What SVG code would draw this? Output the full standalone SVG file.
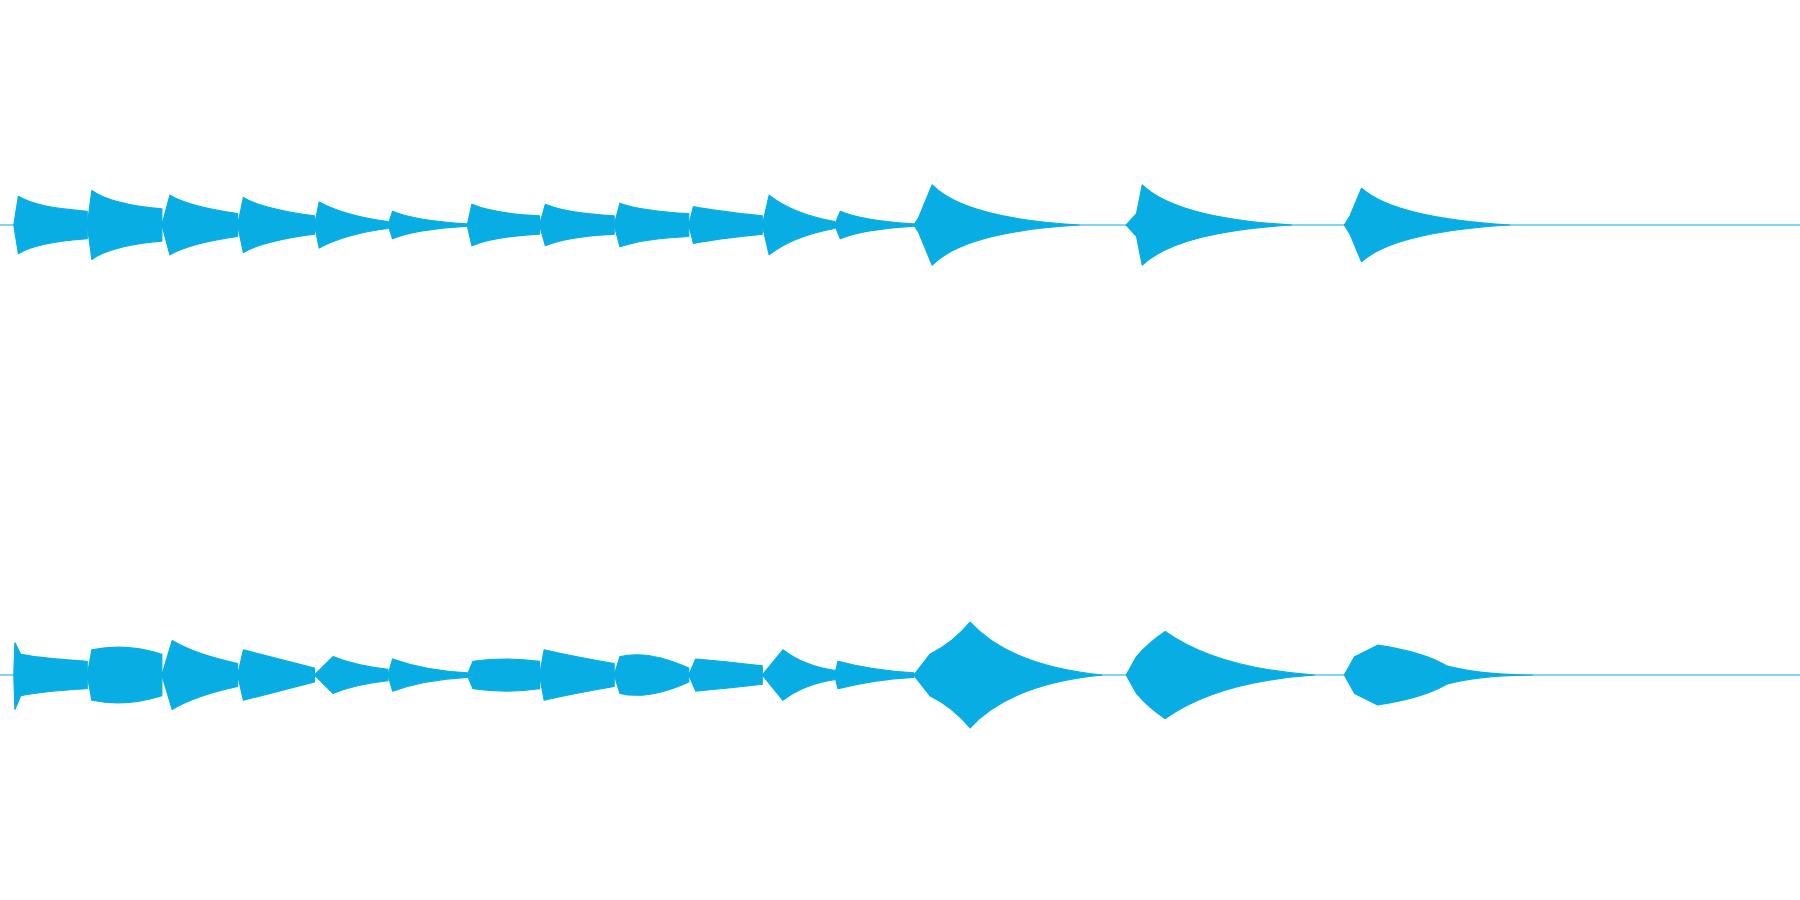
<svg xmlns="http://www.w3.org/2000/svg" width="1800" height="900" viewBox="0 0 1800 900">
<style>.w{fill:#08ade4;stroke:#08ade4;stroke-width:1;stroke-linejoin:round}.b{stroke:#08ade4;stroke-width:1}</style>
<rect width="1800" height="900" fill="#fff"/>
<g transform="scale(1.148)">
<g id="top">
<line class="b" x1="0" y1="196" x2="1568" y2="196"/>
<path class="w" d="M12 196 L16 171 Q32 181 76 184 L76 208 Q32 211 16 221Z"/>
<path class="w" d="M76 196 L80 166 Q96 178 141 182 L141 210 Q96 214 80 226Z"/>
<path class="w" d="M141 196 L148 170 Q165 180 207 186 L207 206 Q165 212 148 222Z"/>
<path class="w" d="M207 196 L212 172 Q228 182 274 188 L274 204 Q228 210 212 220Z"/>
<path class="w" d="M274 196 L278 176 Q300 188 338 193 L338 199 Q300 204 278 216Z"/>
<path class="w" d="M338 196 L342 184 Q360 192 407 195 L407 197 Q360 200 342 208Z"/>
<path class="w" d="M407 196 L411 178 Q430 186 470 188 L470 204 Q430 206 411 214Z"/>
<path class="w" d="M470 196 L475 178 Q495 186 535 188 L535 204 Q495 206 475 214Z"/>
<path class="w" d="M535 196 L540 177 Q560 184 600 186 L600 206 Q560 208 540 215Z"/>
<path class="w" d="M600 196 L604 180 Q625 184 664 188 L664 204 Q625 208 604 212Z"/>
<path class="w" d="M664 196 L670 170 Q690 186 727 193 L727 199 Q690 206 670 222Z"/>
<path class="w" d="M727 196 L732 184 Q750 192 796 195 L796 197 Q750 200 732 208Z"/>
<path class="w" d="M796 196 L800 190 L812 161 Q840 190 940 196 Q840 202 812 231 L800 202Z"/>
<path class="w" d="M981 196 L990 186 L995 161 Q1025 190 1125 196 Q1025 202 995 231 L990 206Z"/>
<path class="w" d="M1171 196 L1176 188 L1186 164 Q1215 190 1315 196 Q1215 202 1186 228 L1176 204Z"/>
</g>
<g id="bottom">
<line class="b" x1="0" y1="588" x2="1568" y2="588"/>
<path class="w" d="M12 588 L13 560 L18 570 Q40 574 76 576 L76 600 Q40 602 18 606 L13 618Z"/>
<path class="w" d="M76 588 L80 566 Q110 560 141 570 L141 606 Q110 616 80 610Z"/>
<path class="w" d="M141 588 L150 558 Q170 570 207 578 L207 598 Q170 606 150 618Z"/>
<path class="w" d="M207 588 L212 566 Q235 572 274 582 L274 594 Q235 604 212 610Z"/>
<path class="w" d="M274 588 L290 572 Q310 580 338 583 L338 593 Q310 596 290 604Z"/>
<path class="w" d="M338 588 L342 574 Q370 584 407 586 L407 590 Q370 592 342 602Z"/>
<path class="w" d="M407 588 L412 576 Q440 572 470 576 L470 600 Q440 604 412 600Z"/>
<path class="w" d="M470 588 L474 566 Q500 572 535 578 L535 598 Q500 604 474 610Z"/>
<path class="w" d="M535 588 L540 572 Q565 566 600 582 L600 594 Q565 610 540 604Z"/>
<path class="w" d="M600 588 L606 574 Q630 576 664 580 L664 596 Q630 600 606 602Z"/>
<path class="w" d="M664 588 L682 566 Q700 580 727 584 L727 592 Q700 596 682 610Z"/>
<path class="w" d="M727 588 L730 576 Q760 584 796 586 L796 590 Q760 592 730 600Z"/>
<path class="w" d="M796 588 L810 570 Q830 560 845 542 Q880 580 960 588 Q880 596 845 634 Q830 616 810 606Z"/>
<path class="w" d="M981 588 L990 572 Q1000 560 1015 550 Q1060 582 1145 588 Q1060 594 1015 626 Q1000 616 990 604Z"/>
<path class="w" d="M1171 588 L1180 572 L1200 562 Q1240 568 1260 580 Q1290 588 1335 588 Q1290 588 1260 596 Q1240 608 1200 614 L1180 604Z"/>
</g>
</g>
</svg>
